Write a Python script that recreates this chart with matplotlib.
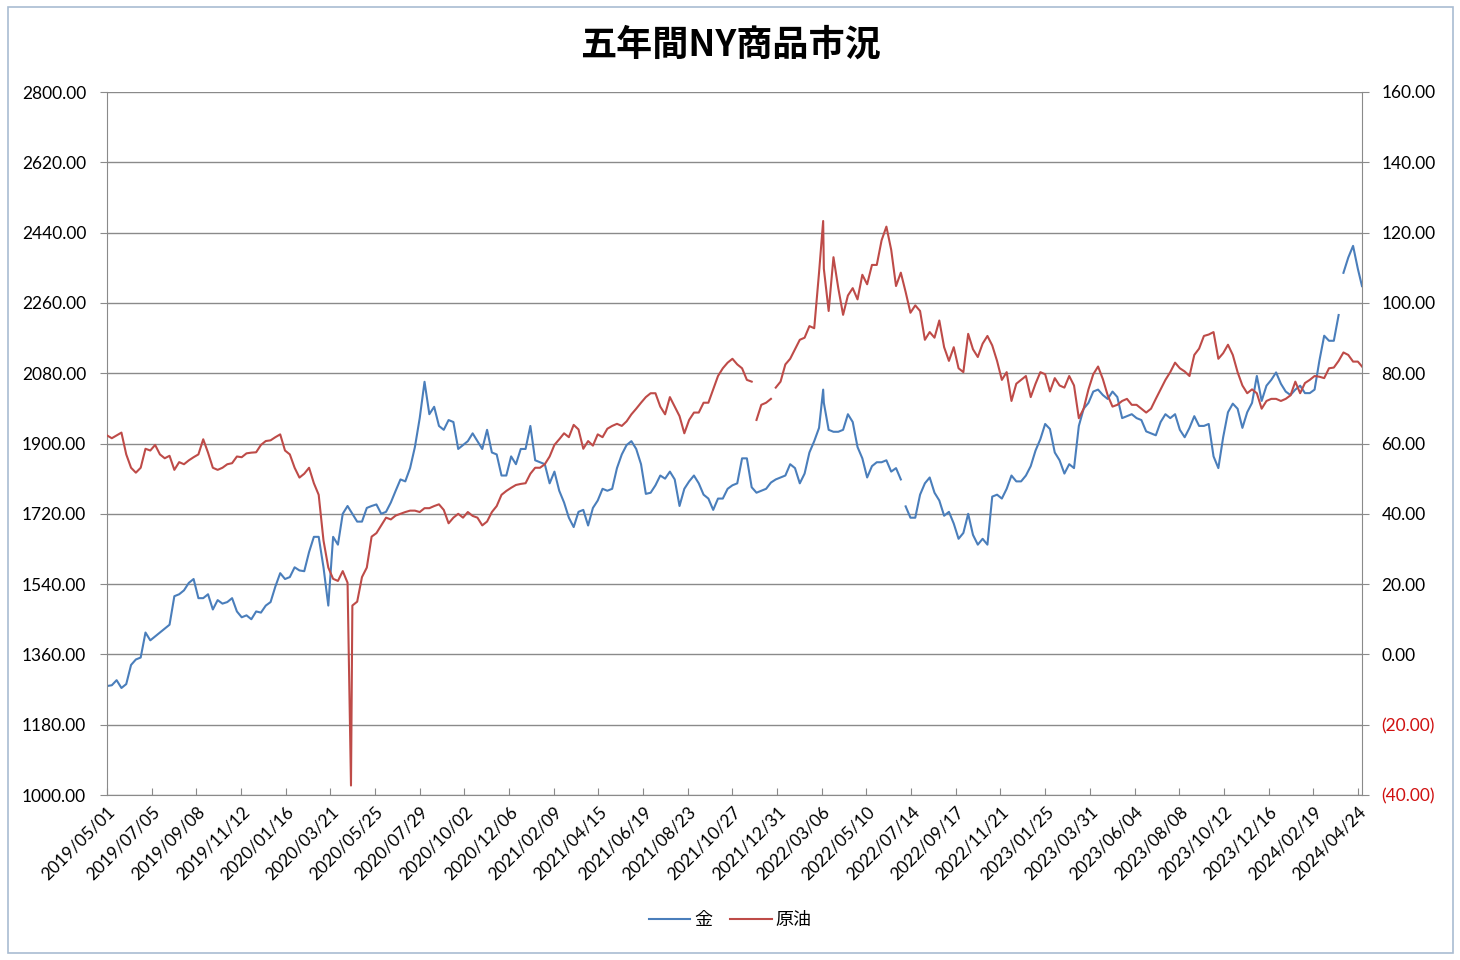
import numpy as np
import pandas as pd
import matplotlib
matplotlib.use("Agg")
import matplotlib.pyplot as plt
from matplotlib.ticker import FuncFormatter
from matplotlib.patches import Rectangle

plt.rcParams['font.family'] = ['Lato', 'Noto Sans CJK JP', 'DejaVu Sans']

# ---------------- data (weekly samples) ----------------
START = '2019-05-01'
week_dates = pd.date_range(START, periods=261, freq='7D')

gold = [1279, 1281, 1294, 1274, 1284, 1333, 1347, 1352, 1416, 1396, 1406, 1416, 1426, 1436, 1509,
        1514, 1524, 1543, 1553, 1504, 1504, 1514, 1475, 1499, 1490, 1494, 1504, 1470, 1455, 1460, 1450,
        1470, 1467, 1485, 1494, 1534, 1568, 1553, 1558, 1583, 1575, 1573, 1622, 1661, 1661, 1583,
        1485, 1661, 1641, 1720, 1740, 1720, 1700, 1700, 1735, 1740, 1744, 1720, 1725, 1749, 1779,
        1808, 1803, 1837,
        1891, 1965, 2058, 1975, 1994, 1945, 1935, 1960, 1955, 1886, 1896, 1906, 1926, 1906, 1886,
        1935, 1877, 1872, 1818, 1818, 1867, 1847, 1886, 1886, 1945, 1857, 1852, 1847, 1798, 1828,
        1779, 1749,
        1710, 1686, 1725, 1730, 1690, 1735, 1754, 1784, 1779, 1784, 1837, 1872, 1896, 1906, 1886,
        1847, 1771, 1774, 1793, 1818, 1810, 1828, 1808, 1740, 1784, 1803, 1818, 1798, 1769, 1759,
        1730, 1759,
        1759, 1784, 1793, 1798, 1862, 1862, 1788, 1774, 1779, 1784, 1800, 1808, 1813, 1818, 1847,
        1837, 1798, 1823, 1877, 1906, 1940, 2004, 1935, 1930, 1930, 1935, 1975, 1955, 1891, 1862,
        1813, 1842,
        1852, 1852, 1857, 1828, 1837, 1808, 1739, 1710, 1710, 1769, 1798, 1813, 1774, 1754, 1715,
        1725, 1695, 1656, 1671, 1720, 1666, 1641, 1656, 1641, 1764, 1769, 1759, 1784, 1818, 1803,
        1803, 1818,
        1842, 1882, 1911, 1950, 1937, 1877, 1857, 1823, 1847, 1837, 1945, 1989, 2004, 2033, 2038,
        2024, 2014, 2033, 2019, 1965, 1970, 1975, 1965, 1960, 1931, 1926, 1921, 1955, 1975, 1965,
        1975, 1935,
        1916, 1940, 1970, 1945, 1945, 1950, 1867, 1837, 1916, 1980, 2002, 1989, 1940, 1980, 2004,
        2073, 2009, 2048, 2063, 2082, 2053, 2033, 2024, 2038, 2048, 2029, 2029, 2038, 2112, 2176,
        2163, 2163, 2229, 2337, 2376, 2406, 2347]

oil = [62.3, 61.5, 62.3, 63.1, 56.9, 53.1, 51.7, 53.1, 58.5, 58.0, 59.6, 56.9, 55.8, 56.5, 52.5,
       54.7, 54.1, 55.2, 56.1, 56.9, 61.2, 57.4, 53.1, 52.5, 53.1, 54.1, 54.4, 56.3, 56.1, 57.2, 57.4,
       57.5, 59.6, 60.7, 60.9, 61.8, 62.6, 58.0, 56.9, 53.1, 50.3, 51.4, 53.1, 48.7, 45.4, 32.4,
       24.7, 21.5, 20.9, 23.7, 20.4, 13.9, 15.0, 22.0, 24.7, 33.5, 34.5, 36.7, 38.9, 38.4, 39.5,
       40.0, 40.5, 40.9,
       40.9, 40.5, 41.6, 41.6, 42.2, 42.7, 41.1, 37.3, 38.9, 40.0, 38.9, 40.5, 39.4, 38.9, 36.7,
       37.8, 40.5, 42.2, 45.4, 46.5, 47.4, 48.2, 48.5, 48.7, 51.4, 53.1, 53.1, 54.1, 56.3, 59.6,
       61.2, 62.9,
       61.8, 65.3, 64.0, 58.5, 60.7, 59.4, 62.6, 61.8, 64.2, 65.0, 65.6, 65.0, 66.3, 68.3, 69.9,
       71.6, 73.2, 74.3, 74.3, 70.5, 68.3, 73.2, 70.5, 67.8, 62.9, 66.7, 68.8, 68.8, 71.6, 71.6,
       75.4, 79.2,
       81.4, 83.0, 84.1, 82.5, 81.4, 78.1, 77.6, 66.7, 71.0, 71.6, 72.7, 75.9, 77.6, 82.5, 84.1,
       86.8, 89.5, 90.1, 93.4, 92.8, 108.6, 109.7, 97.7, 113.0, 104.2, 96.6, 102.1, 104.2, 101.0,
       108.0, 105.3, 110.8,
       110.8, 117.8, 121.7, 115.1, 104.8, 108.6, 103.1, 97.2, 99.3, 97.7, 89.5, 91.7, 90.1, 95.0,
       87.4, 83.5, 87.4, 81.4, 80.3, 91.2, 86.8, 84.6, 88.4, 90.6, 87.9, 83.5, 78.1, 80.3, 72.1,
       77.0, 78.1, 79.2,
       73.2, 77.0, 80.3, 79.7, 74.8, 78.6, 76.5, 75.9, 79.2, 76.5, 67.2, 69.9, 75.4, 79.7, 81.9,
       78.3, 73.7, 70.5, 71.0, 72.1, 72.7, 71.0, 71.0, 69.9, 68.8, 69.9, 72.7, 75.4, 78.1, 80.3,
       83.0, 81.4,
       80.5, 79.2, 85.2, 87.0, 90.6, 91.0, 91.7, 84.1, 85.7, 88.1, 85.2, 80.3, 76.5, 74.3, 75.4,
       74.3, 69.9, 72.1, 72.7, 72.7, 72.1, 72.7, 73.7, 77.6, 74.3, 77.2, 78.1, 79.2, 79.0, 78.6,
       81.4, 81.6, 83.5, 85.9, 85.2, 83.3, 83.3]

# extra daily points (spikes / last day)
gold_extra_dates = ['2022-03-08', '2024-04-30']
gold_extra_values = [2038, 2303]
oil_extra_dates = ['2020-04-20', '2022-03-08', '2024-04-30']
oil_extra_values = [-37.3, 123.3, 81.9]

# missing days (holidays) that break the lines
gold_gap_dates = ['2022-07-04', '2024-03-29']
oil_gap_dates = ['2021-11-25', '2021-12-24']

x_tick_dates = pd.date_range(START, periods=29, freq='65D')
left_ticks = list(range(1000, 2801, 180))
right_ticks = list(range(-40, 161, 20))

title = '五年間NY商品市況'
gold_label = '金'
oil_label = '原油'


def build(vals, extra_d, extra_v, gaps):
    s = pd.Series(vals, index=week_dates, dtype=float)
    e = pd.Series(extra_v, index=pd.to_datetime(extra_d), dtype=float)
    g = pd.Series(np.nan, index=pd.to_datetime(gaps), dtype=float)
    return pd.concat([s, e, g]).sort_index()


gs = build(gold, gold_extra_dates, gold_extra_values, gold_gap_dates)
osr = build(oil, oil_extra_dates, oil_extra_values, oil_gap_dates)

# ---------------- figure ----------------
W, H = 1460, 960
fig = plt.figure(figsize=(W / 100, H / 100), dpi=100)
fig.patch.set_facecolor('white')
L, R, T, B = 107, 1362, 92, 795
ax = fig.add_axes([L / W, 1 - B / H, (R - L) / W, (B - T) / H])
ax2 = ax.twinx()

GOLD_C = '#4a7ebb'
OIL_C = '#be4b48'
GRID_C = '#8a8a8a'

l1, = ax.plot(gs.index, gs.values, color=GOLD_C, lw=1.5, label=gold_label)
l2, = ax2.plot(osr.index, osr.values, color=OIL_C, lw=1.5, label=oil_label)

ax.set_xlim(pd.Timestamp('2019-05-01'), pd.Timestamp('2024-04-30'))
ax.set_ylim(1000, 2800)
ax2.set_ylim(-40, 160)

ax.set_yticks(left_ticks)
ax.yaxis.set_major_formatter(FuncFormatter(lambda v, p: f'{v:.2f}'))
rlabels = [f'({abs(v):.2f})' if v < 0 else f'{v:.2f}' for v in right_ticks]
ax2.set_yticks(right_ticks, labels=rlabels)
for t, v in zip(ax2.get_yticklabels(), right_ticks):
    if v < 0:
        t.set_color('#d01010')

ax.set_xticks(x_tick_dates)
ax.set_xticklabels([d.strftime('%Y/%m/%d') for d in x_tick_dates],
                   rotation=45, ha='right', va='top', rotation_mode='anchor')

ax.grid(axis='y', color=GRID_C, lw=1.0)
ax.set_axisbelow(True)

for sp in ['top']:
    ax.spines[sp].set_visible(False)
    ax2.spines[sp].set_visible(False)
for sp in ['left', 'bottom']:
    ax.spines[sp].set_color(GRID_C)
ax.spines['right'].set_visible(False)
ax2.spines['left'].set_visible(False)
ax2.spines['bottom'].set_visible(False)
ax2.spines['right'].set_color(GRID_C)

ax.tick_params(axis='y', direction='out', length=5, color=GRID_C, labelsize=12.5, pad=10)
ax2.tick_params(axis='y', direction='out', length=5, color=GRID_C, labelsize=12.5, pad=9)
ax.tick_params(axis='x', direction='in', length=5, color=GRID_C, labelsize=12.5, pad=6)

fig.text(0.5, 1 - 45 / H, title, ha='center', va='center', fontsize=26, fontweight='bold',
         family=['Noto Sans CJK JP', 'DejaVu Sans'])

fig.legend(handles=[l1, l2], loc='center', bbox_to_anchor=(0.5, 1 - 920 / H), ncol=2,
           frameon=False, handlelength=2.3, handletextpad=0.2, columnspacing=1.0,
           prop={'family': ['Noto Sans CJK JP', 'DejaVu Sans'], 'size': 13})

fig.add_artist(Rectangle((8 / W, 7 / H), (1453 - 8) / W, (953 - 7) / H, transform=fig.transFigure,
                         fill=False, edgecolor='#a9bcd2', lw=1.2))

fig.savefig('out.png', dpi=100)
